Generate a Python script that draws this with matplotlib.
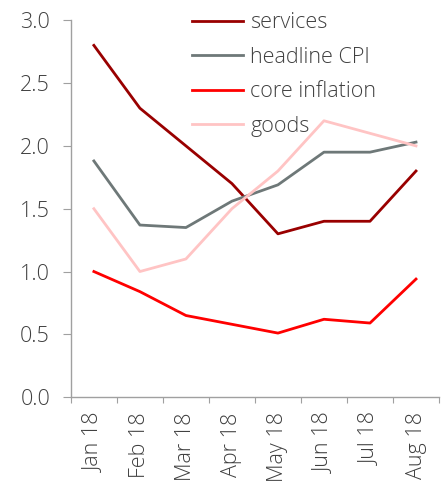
import matplotlib
matplotlib.use("Agg")
import matplotlib.pyplot as plt

plt.rcParams['font.family'] = ['Open Sans', 'DejaVu Sans']

months = ["Jan 18", "Feb 18", "Mar 18", "Apr 18", "May 18", "Jun 18", "Jul 18", "Aug 18"]
services = [2.8, 2.3, 2.0, 1.7, 1.3, 1.4, 1.4, 1.8]
headline_cpi = [1.88, 1.37, 1.35, 1.56, 1.69, 1.95, 1.95, 2.03]
core_inflation = [1.0, 0.84, 0.65, 0.58, 0.51, 0.62, 0.59, 0.94]
goods = [1.5, 1.0, 1.1, 1.5, 1.8, 2.2, 2.1, 2.0]

FS = 15.5
fig = plt.figure(figsize=(4.43, 4.82), dpi=100)
ax = fig.add_axes([0.160, 0.176, 0.831, 0.782])

x = range(len(months))
ax.plot(x, services, color="#990000", lw=2, label="services")
ax.plot(x, headline_cpi, color="#6e7878", lw=2, label="headline CPI")
ax.plot(x, core_inflation, color="#ff0000", lw=2, label="core inflation")
ax.plot(x, goods, color="#ffc4c4", lw=2, label="goods")

ax.set_xlim(-0.5, len(months) - 0.5)
ax.set_ylim(0, 3.0)
ax.set_yticks([0, 0.5, 1.0, 1.5, 2.0, 2.5, 3.0])
ax.set_yticklabels([f"{v:.1f}" for v in [0, 0.5, 1.0, 1.5, 2.0, 2.5, 3.0]])
ax.set_xticks([i - 0.5 for i in range(len(months) + 1)])
ax.set_xticklabels([])
ax.set_xticks(list(x), minor=True)
ax.set_xticklabels(months, minor=True, rotation=90)
ax.tick_params(axis='x', which='minor', length=0, pad=11)
ax.tick_params(axis='x', which='major', length=4, color="#a0a0a0", direction='out')
ax.tick_params(axis='y', length=6, color="#a0a0a0", pad=9)
for lab in ax.get_xticklabels(minor=True) + ax.get_yticklabels():
    lab.set_fontsize(FS)
    lab.set_color("#404040")
    lab.set_fontweight("light")

for s in ["top", "right"]:
    ax.spines[s].set_visible(False)
for s in ["left", "bottom"]:
    ax.spines[s].set_color("#a0a0a0")
    ax.spines[s].set_linewidth(1)

leg = ax.legend(loc="upper left", bbox_to_anchor=(0.316, 1.032), frameon=False,
                handlelength=2.4, handletextpad=0.33, labelspacing=0.62,
                borderaxespad=0, borderpad=0.2,
                prop={'size': FS, 'weight': 'light'})
for t in leg.get_texts():
    t.set_color("#404040")

fig.savefig("out.png", dpi=100)
